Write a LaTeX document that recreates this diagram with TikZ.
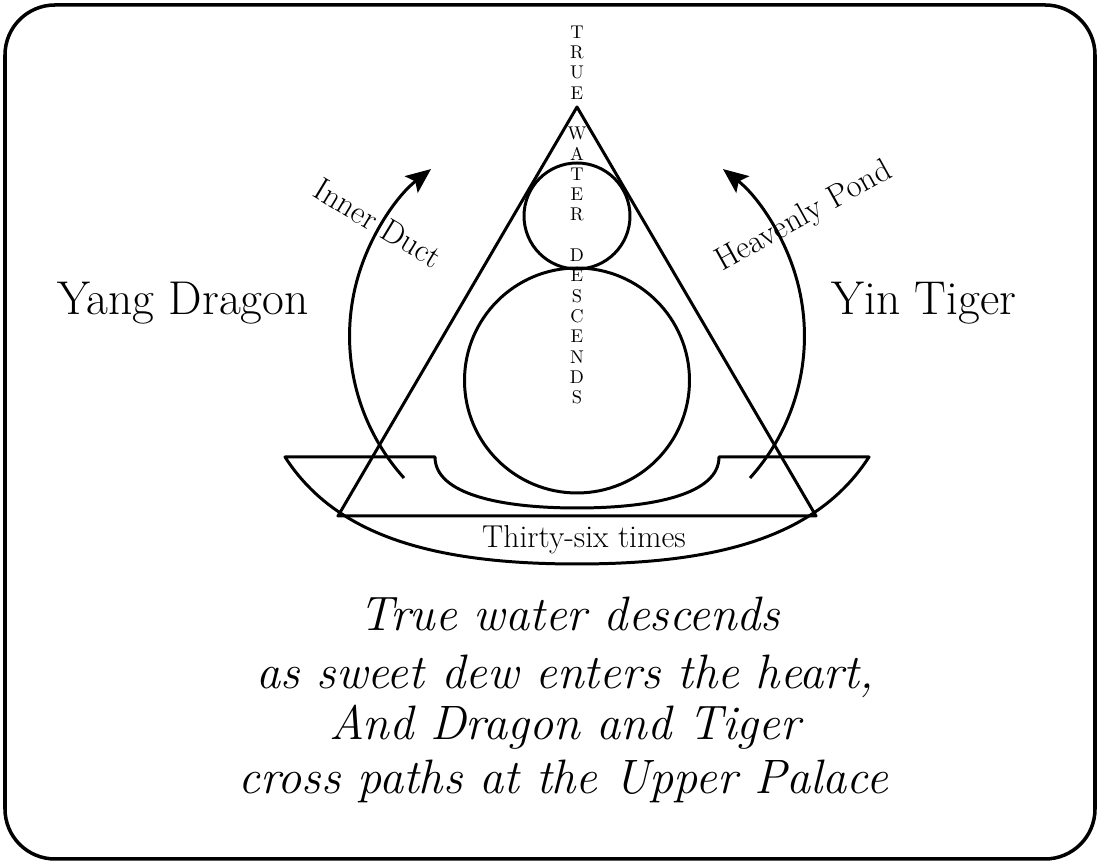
\documentclass[tikz,border=0pt]{standalone}
\usepackage{tikz}
\usetikzlibrary{arrows.meta}

\begin{document}
\begin{tikzpicture}[
    x=0.02cm, y=0.02cm,
    line/.style={draw=black, line width=1.7pt, line join=round},
    flow/.style={line, -{Stealth[length=0.5cm, width=0.42cm, inset=0.1cm]}},
    side/.style={font=\fontsize{27pt}{32pt}\selectfont, anchor=base},
    duct/.style={font=\fontsize{18.5pt}{22pt}\selectfont},
    letter/.style={font=\fontsize{10.5pt}{12pt}\selectfont, inner sep=0pt},
    count/.style={font=\fontsize{18pt}{21pt}\selectfont, anchor=base},
    verse/.style={font=\fontsize{27.5pt}{32pt}\selectfont\itshape, anchor=base}
]
    \useasboundingbox (0,0) rectangle (1100,864);
    \draw [line width=2pt, rounded corners=1cm] (5,5) rectangle (1095,859);

    % bowl
    \draw [line] (285,407) -- (435,407)
        .. controls (435,370) and (500,356) .. (577,356)
        .. controls (654,356) and (719,370) .. (719,407)
        -- (869,407)
        .. controls (820,331) and (727,300) .. (577,300)
        .. controls (427,300) and (334,331) .. (285,407) -- cycle;

    % triangle and circles
    \draw [line] (577,757) -- (816,348) -- (338,348) -- cycle;
    \draw [line] (577,648) circle[radius=53];
    \draw [line] (577,483.5) circle[radius=112.5];

    % rising channels
    \coordinate (duct-in) at (404,386);
    \coordinate (pond-in) at (750,386);
    \draw [flow] (duct-in) arc[start angle=222, end angle=128, radius=212];
    \draw [flow] (pond-in) arc[start angle=-42, end angle=52, radius=212];

    \node (dragon) [side] at (183,549) {Yang Dragon};
    \node (tiger) [side] at (924,549) {Yin Tiger};
    \node (duct) [duct, rotate=-31] at (378,641) {Inner Duct};
    \node (pond) [duct, rotate=29] at (804,647) {Heavenly Pond};
    \node (times) [count] at (584,316) {Thirty-six times};

    \foreach \ch/\row in {T/0,R/1,U/2,E/3,W/5,A/6,T/7,E/8,R/9,D/11,E/12,S/13,C/14,E/15,N/16,D/17,S/18}
        \node (drop-\row) [letter] at (577,832-20.3*\row) {\ch};

    \node (verse-a) [verse] at (570,233) {True water descends};
    \node (verse-b) [verse] at (565,175) {as sweet dew enters the heart,};
    \node (verse-c) [verse] at (565,124) {And Dragon and Tiger};
    \node (verse-d) [verse] at (563,70) {cross paths at the Upper Palace};
\end{tikzpicture}
\end{document}
